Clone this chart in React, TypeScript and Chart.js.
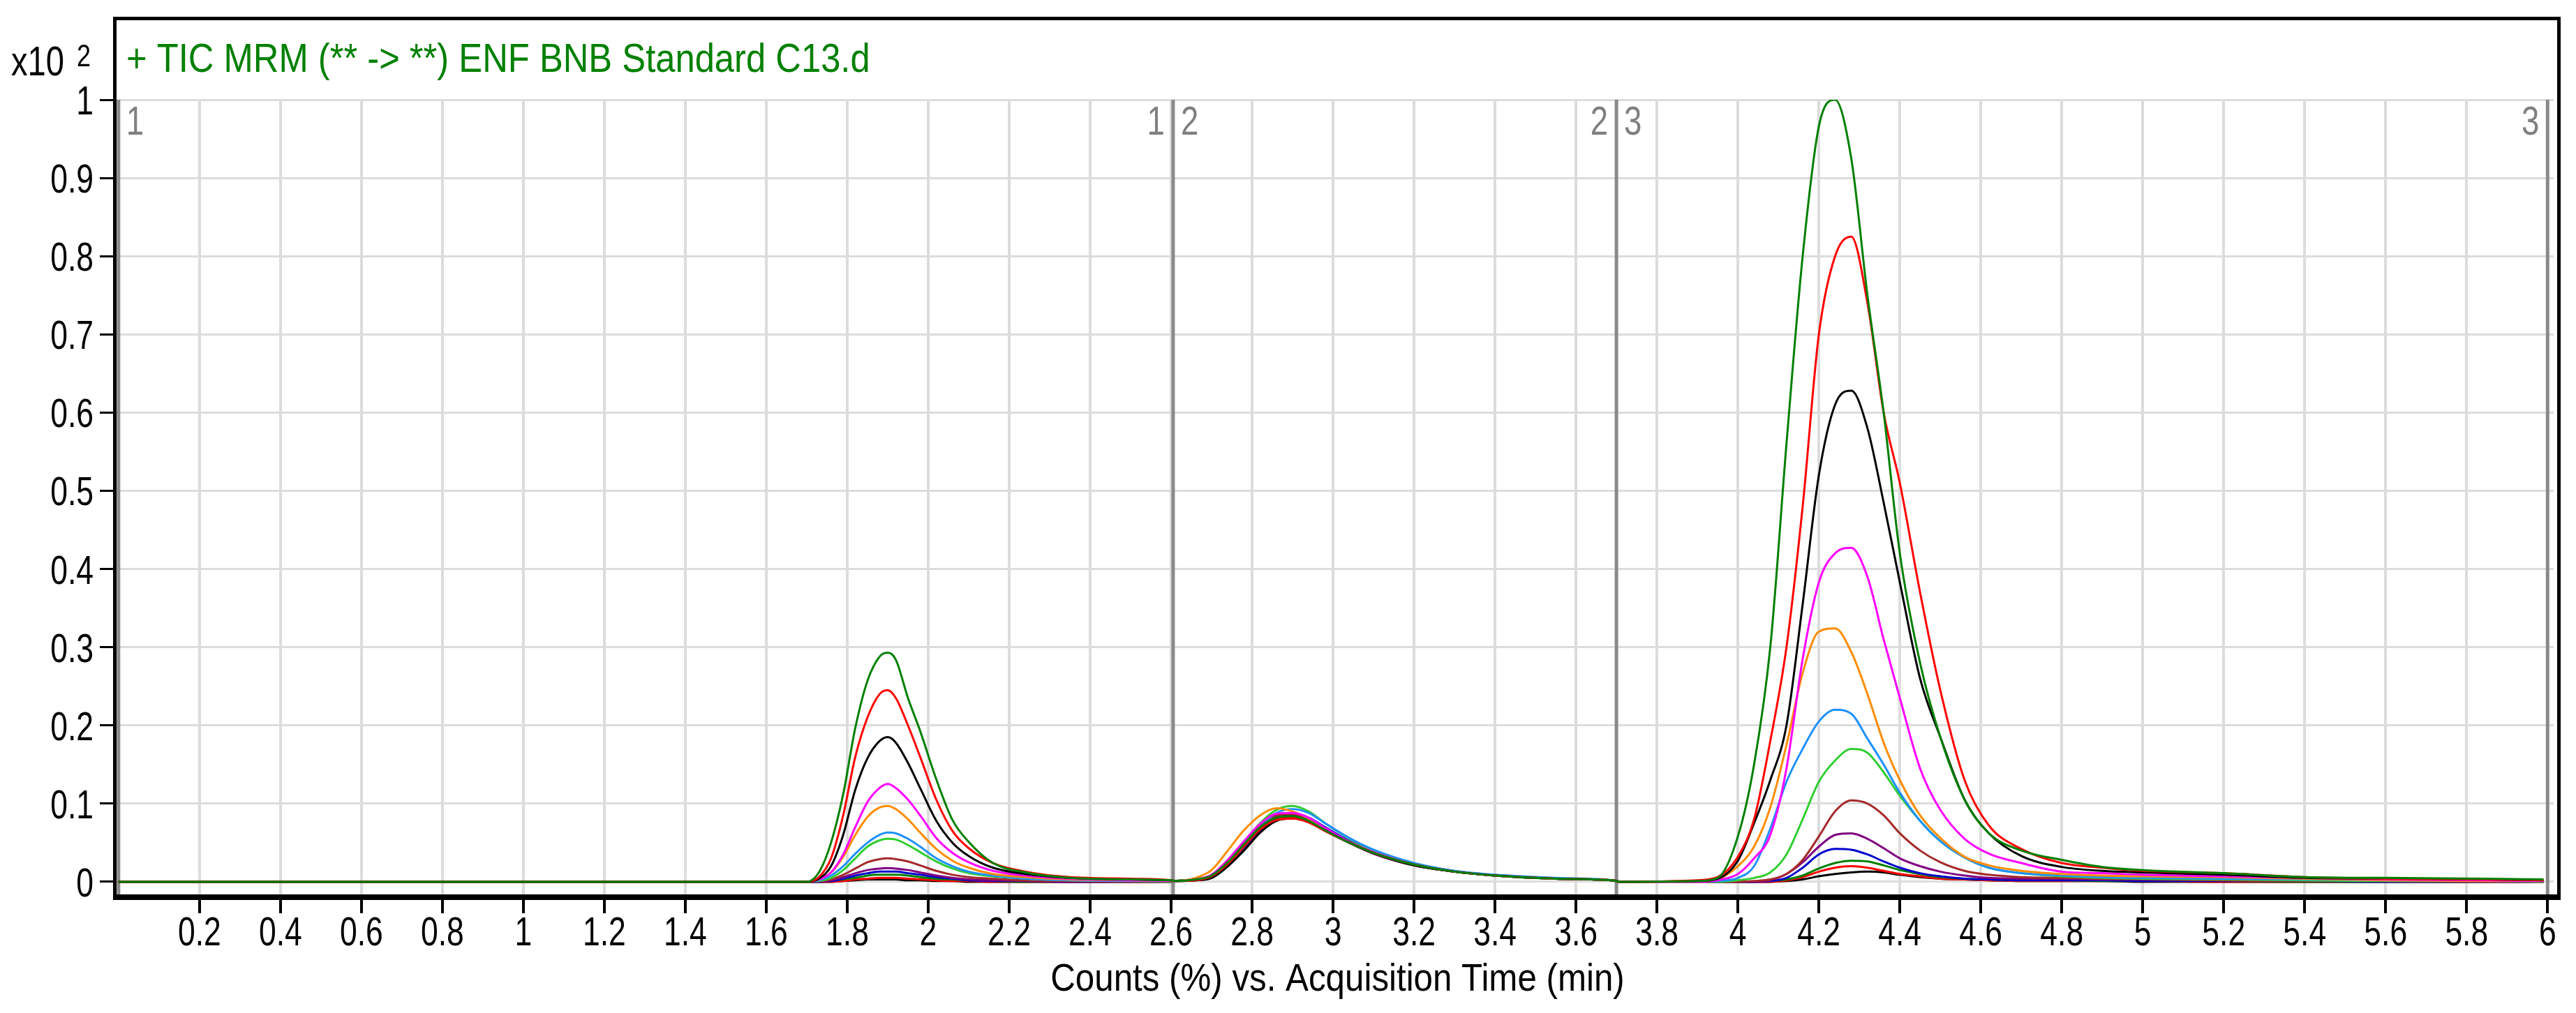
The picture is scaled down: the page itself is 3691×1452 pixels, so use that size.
import React, { useEffect, useRef } from 'react';
import { Chart, registerables } from 'chart.js';

Chart.register(...registerables);

// ---------- texts ----------
const TITLE = '+ TIC MRM (** -> **) ENF BNB Standard C13.d';
const X_AXIS_TITLE = 'Counts (%) vs. Acquisition Time (min)';
const Y_MULT_TEXT = 'x10';
const Y_MULT_EXP = '2';

// ---------- ticks ----------
const X_TICKS = [0.2, 0.4, 0.6, 0.8, 1, 1.2, 1.4, 1.6, 1.8, 2, 2.2, 2.4, 2.6, 2.8, 3, 3.2, 3.4, 3.6, 3.8, 4, 4.2, 4.4, 4.6, 4.8, 5, 5.2, 5.4, 5.6, 5.8, 6];
const X_TICK_LABELS = ['0.2', '0.4', '0.6', '0.8', '1', '1.2', '1.4', '1.6', '1.8', '2', '2.2', '2.4', '2.6', '2.8', '3', '3.2', '3.4', '3.6', '3.8', '4', '4.2', '4.4', '4.6', '4.8', '5', '5.2', '5.4', '5.6', '5.8', '6'];
const Y_TICKS = [0, 0.1, 0.2, 0.3, 0.4, 0.5, 0.6, 0.7, 0.8, 0.9, 1];
const Y_TICK_LABELS = ['0', '0.1', '0.2', '0.3', '0.4', '0.5', '0.6', '0.7', '0.8', '0.9', '1'];

// ---------- acquisition segments ----------
const SEGMENT_BOUNDS = [0, 2.605, 3.7, 6.0];
const SEGMENT_NAMES = ['1', '2', '3'];

// ---------- acquisition times (min) ----------
const TIME_SEG1 = [0, 1.70, 1.73, 1.76, 1.79, 1.82, 1.85, 1.88, 1.90, 1.92, 1.95, 1.98, 2.02, 2.06, 2.10, 2.16, 2.24, 2.35, 2.50, 2.60];
const TIME_SEG2 = [2.61, 2.66, 2.70, 2.74, 2.78, 2.82, 2.86, 2.90, 2.94, 2.98, 3.04, 3.10, 3.20, 3.30, 3.40, 3.55, 3.69];
const TIME_SEG3 = [3.71, 3.90, 3.95, 4.00, 4.04, 4.08, 4.12, 4.16, 4.20, 4.24, 4.28, 4.32, 4.36, 4.40, 4.45, 4.50, 4.56, 4.62, 4.70, 4.80, 4.90, 5.00, 5.20, 5.40, 5.60, 5.85, 5.99];

// ---------- counts (x10^2 %) per trace: segment 1 | segment 2 | segment 3 ----------
const GREEN_A = [
  0, 0, 0.012, 0.05, 0.112, 0.197, 0.257, 0.288, 0.293, 0.284, 0.235, 0.193, 0.131, 0.079, 0.051, 0.024, 0.012, 0.005, 0.003, 0.002,
  0.001, 0.003, 0.008, 0.025, 0.048, 0.07, 0.082, 0.084, 0.078, 0.066, 0.05, 0.037, 0.022, 0.013, 0.008, 0.004, 0.002,
  0, 0.001, 0.005, 0.058, 0.15, 0.30, 0.56, 0.80, 0.966, 1.0, 0.925, 0.75, 0.60, 0.42, 0.28, 0.185, 0.105, 0.062, 0.04, 0.028, 0.019, 0.015, 0.011, 0.006, 0.005, 0.004, 0.003,
];
const RED_A = [
  0, 0, 0.006, 0.03, 0.085, 0.16, 0.21, 0.24, 0.245, 0.235, 0.2, 0.16, 0.105, 0.065, 0.043, 0.024, 0.013, 0.006, 0.004, 0.002,
  0.001, 0.002, 0.007, 0.023, 0.045, 0.067, 0.079, 0.081, 0.076, 0.065, 0.05, 0.037, 0.022, 0.013, 0.008, 0.004, 0.002,
  0, 0.002, 0.006, 0.032, 0.08, 0.18, 0.30, 0.48, 0.70, 0.80, 0.825, 0.74, 0.60, 0.51, 0.37, 0.245, 0.13, 0.072, 0.042, 0.024, 0.018, 0.014, 0.011, 0.006, 0.004, 0.003, 0.002,
];
const BLACK_A = [
  0, 0, 0.004, 0.02, 0.06, 0.118, 0.158, 0.18, 0.185, 0.178, 0.152, 0.12, 0.078, 0.05, 0.033, 0.018, 0.01, 0.005, 0.003, 0.002,
  0.001, 0.002, 0.005, 0.02, 0.04, 0.063, 0.078, 0.081, 0.077, 0.066, 0.05, 0.037, 0.021, 0.013, 0.008, 0.004, 0.002,
  0, 0.001, 0.004, 0.027, 0.075, 0.13, 0.20, 0.355, 0.52, 0.61, 0.628, 0.58, 0.485, 0.383, 0.26, 0.185, 0.105, 0.062, 0.033, 0.019, 0.014, 0.012, 0.009, 0.005, 0.004, 0.003, 0.002,
];
const MAGENTA_A = [
  0, 0, 0.003, 0.012, 0.035, 0.07, 0.102, 0.12, 0.125, 0.12, 0.105, 0.085, 0.056, 0.037, 0.025, 0.014, 0.008, 0.004, 0.002, 0.001,
  0.001, 0.003, 0.009, 0.028, 0.052, 0.074, 0.087, 0.088, 0.082, 0.069, 0.051, 0.038, 0.022, 0.013, 0.008, 0.004, 0.002,
  0, 0, 0.002, 0.01, 0.03, 0.06, 0.145, 0.285, 0.383, 0.42, 0.427, 0.39, 0.31, 0.235, 0.145, 0.092, 0.055, 0.036, 0.024, 0.013, 0.011, 0.009, 0.007, 0.005, 0.003, 0.002, 0.001,
];
const ORANGE_A = [
  0, 0, 0.003, 0.012, 0.032, 0.06, 0.083, 0.095, 0.097, 0.093, 0.08, 0.063, 0.042, 0.027, 0.018, 0.01, 0.006, 0.003, 0.002, 0.001,
  0.001, 0.005, 0.015, 0.04, 0.066, 0.085, 0.094, 0.09, 0.081, 0.068, 0.051, 0.038, 0.022, 0.013, 0.008, 0.004, 0.002,
  0, 0, 0.003, 0.02, 0.045, 0.095, 0.175, 0.267, 0.32, 0.324, 0.294, 0.24, 0.178, 0.13, 0.085, 0.056, 0.032, 0.021, 0.014, 0.01, 0.008, 0.007, 0.006, 0.004, 0.002, 0.001, 0.001,
];
const DODGER_A = [
  0, 0, 0.002, 0.008, 0.02, 0.036, 0.05, 0.06, 0.063, 0.062, 0.055, 0.045, 0.03, 0.02, 0.013, 0.008, 0.004, 0.002, 0.001, 0.001,
  0.001, 0.002, 0.006, 0.022, 0.045, 0.07, 0.088, 0.093, 0.088, 0.075, 0.056, 0.041, 0.024, 0.014, 0.009, 0.005, 0.002,
  0, 0, 0.001, 0.005, 0.02, 0.068, 0.128, 0.17, 0.205, 0.22, 0.215, 0.183, 0.15, 0.114, 0.078, 0.052, 0.031, 0.018, 0.011, 0.008, 0.006, 0.005, 0.004, 0.003, 0.002, 0.001, 0.001,
];
const LIME_A = [
  0, 0, 0.001, 0.005, 0.015, 0.03, 0.045, 0.053, 0.055, 0.054, 0.047, 0.038, 0.026, 0.017, 0.011, 0.007, 0.004, 0.002, 0.001, 0,
  0.001, 0.003, 0.008, 0.026, 0.05, 0.075, 0.092, 0.097, 0.09, 0.075, 0.055, 0.04, 0.023, 0.014, 0.008, 0.004, 0.002,
  0, 0, 0, 0.002, 0.005, 0.012, 0.035, 0.08, 0.128, 0.155, 0.17, 0.165, 0.14, 0.11, 0.078, 0.052, 0.031, 0.018, 0.011, 0.007, 0.005, 0.004, 0.003, 0.002, 0.001, 0.001, 0,
];
const BROWN_A = [
  0, 0, 0.001, 0.003, 0.009, 0.017, 0.025, 0.029, 0.03, 0.029, 0.026, 0.021, 0.014, 0.009, 0.006, 0.004, 0.002, 0.001, 0, 0,
  0.001, 0.003, 0.008, 0.025, 0.049, 0.072, 0.085, 0.087, 0.08, 0.068, 0.051, 0.037, 0.022, 0.013, 0.008, 0.004, 0.002,
  0, 0, 0, 0, 0.001, 0.003, 0.01, 0.028, 0.058, 0.09, 0.104, 0.1, 0.085, 0.062, 0.04, 0.025, 0.014, 0.009, 0.006, 0.005, 0.004, 0.003, 0.002, 0.001, 0.001, 0, 0,
];
const PURPLE_A = [
  0, 0, 0, 0.002, 0.006, 0.011, 0.015, 0.017, 0.0175, 0.017, 0.015, 0.012, 0.008, 0.005, 0.003, 0.002, 0.001, 0, 0, 0,
  0.001, 0.003, 0.008, 0.026, 0.05, 0.072, 0.084, 0.085, 0.079, 0.067, 0.05, 0.036, 0.021, 0.013, 0.008, 0.004, 0.002,
  0, 0, 0, 0, 0, 0.002, 0.01, 0.025, 0.045, 0.06, 0.062, 0.055, 0.043, 0.03, 0.02, 0.013, 0.008, 0.005, 0.004, 0.004, 0.003, 0.003, 0.002, 0.001, 0.001, 0, 0,
];
const BLUE_A = [
  0, 0, 0, 0.001, 0.004, 0.008, 0.011, 0.013, 0.013, 0.013, 0.011, 0.009, 0.006, 0.004, 0.002, 0.001, 0.001, 0, 0, 0,
  0.001, 0.002, 0.006, 0.021, 0.042, 0.066, 0.082, 0.087, 0.082, 0.07, 0.052, 0.038, 0.022, 0.013, 0.008, 0.004, 0.002,
  0, 0, 0, 0, 0, 0.001, 0.005, 0.018, 0.035, 0.042, 0.041, 0.035, 0.026, 0.018, 0.011, 0.007, 0.004, 0.003, 0.002, 0.002, 0.002, 0.001, 0.001, 0.001, 0, 0, 0,
];
const GREEN_B = [
  0, 0, 0, 0.001, 0.003, 0.005, 0.008, 0.009, 0.009, 0.009, 0.008, 0.006, 0.004, 0.003, 0.002, 0.001, 0, 0, 0, 0,
  0.001, 0.003, 0.007, 0.024, 0.047, 0.069, 0.082, 0.085, 0.079, 0.067, 0.05, 0.037, 0.022, 0.013, 0.008, 0.004, 0.002,
  0, 0, 0, 0, 0, 0.001, 0.003, 0.008, 0.017, 0.024, 0.027, 0.026, 0.021, 0.015, 0.01, 0.006, 0.004, 0.003, 0.002, 0.002, 0.001, 0.001, 0.001, 0, 0, 0, 0,
];
const RED_B = [
  0, 0, 0, 0, 0.001, 0.003, 0.004, 0.005, 0.005, 0.005, 0.004, 0.003, 0.002, 0.001, 0.001, 0, 0, 0, 0, 0,
  0.001, 0.002, 0.006, 0.022, 0.045, 0.068, 0.081, 0.083, 0.078, 0.066, 0.05, 0.037, 0.022, 0.013, 0.008, 0.004, 0.002,
  0, 0, 0, 0, 0, 0, 0.002, 0.006, 0.013, 0.018, 0.02, 0.018, 0.014, 0.01, 0.007, 0.004, 0.003, 0.002, 0.001, 0.001, 0.001, 0.001, 0, 0, 0, 0, 0,
];
const BLACK_B = [
  0, 0, 0, 0, 0.001, 0.002, 0.003, 0.003, 0.003, 0.003, 0.002, 0.002, 0.001, 0.001, 0, 0, 0, 0, 0, 0,
  0.001, 0.002, 0.005, 0.02, 0.042, 0.065, 0.079, 0.082, 0.077, 0.066, 0.05, 0.036, 0.021, 0.013, 0.008, 0.004, 0.002,
  0, 0, 0, 0, 0, 0, 0.001, 0.003, 0.007, 0.01, 0.012, 0.013, 0.012, 0.009, 0.006, 0.004, 0.003, 0.002, 0.001, 0.001, 0.001, 0, 0, 0, 0, 0, 0,
];

const TRACES = [
  { color: '#008000', values: GREEN_A },
  { color: '#ff0000', values: RED_A },
  { color: '#000000', values: BLACK_A },
  { color: '#ff00ff', values: MAGENTA_A },
  { color: '#ff8c00', values: ORANGE_A },
  { color: '#1e90ff', values: DODGER_A },
  { color: '#32cd32', values: LIME_A },
  { color: '#a52a2a', values: BROWN_A },
  { color: '#800080', values: PURPLE_A },
  { color: '#0000cd', values: BLUE_A },
  { color: '#008000', values: GREEN_B },
  { color: '#ff0000', values: RED_B },
  { color: '#000000', values: BLACK_B },
];

const FONT = '"Liberation Sans", Arial, sans-serif';
const W = 3691;
const H = 1452;

// draws horizontally condensed text (imitates the narrow bitmap font of the original)
function narrowText(ctx: CanvasRenderingContext2D, text: string, x: number, y: number, size: number, sx: number, align: 'left' | 'right' | 'center', color: string) {
  ctx.save();
  ctx.font = `${size}px ${FONT}`;
  ctx.fillStyle = color;
  ctx.textBaseline = 'alphabetic';
  ctx.textAlign = 'left';
  const w = ctx.measureText(text).width * sx;
  const left = align === 'left' ? x : align === 'right' ? x - w : x - w / 2;
  ctx.translate(left, y);
  ctx.scale(sx, 1);
  ctx.fillText(text, 0, 0);
  ctx.restore();
}

const overlayPlugin = {
  id: 'overlay',
  beforeDatasetsDraw(chart: any) {
    const { ctx, chartArea: a } = chart;
    const x = chart.scales.x;
    ctx.save();
    ctx.strokeStyle = '#8a8a8a';
    ctx.lineWidth = 5;
    SEGMENT_BOUNDS.forEach((b) => {
      const px = x.getPixelForValue(b);
      ctx.beginPath();
      ctx.moveTo(px, a.top);
      ctx.lineTo(px, a.bottom);
      ctx.stroke();
    });
    ctx.restore();
    SEGMENT_NAMES.forEach((n, i) => {
      const l = x.getPixelForValue(SEGMENT_BOUNDS[i]);
      const r = x.getPixelForValue(SEGMENT_BOUNDS[i + 1]);
      narrowText(ctx, n, l + 11, a.top + 50, 57, 0.8, 'left', '#808080');
      narrowText(ctx, n, r - 12, a.top + 50, 57, 0.8, 'right', '#808080');
    });
  },
  afterDraw(chart: any) {
    const { ctx, chartArea: a } = chart;
    const x = chart.scales.x;
    const y = chart.scales.y;
    ctx.save();
    // frame
    ctx.fillStyle = '#000';
    const L = a.left - 2;
    const T = 24;
    const R = a.right + 5;
    const B = a.bottom - 1;
    ctx.fillRect(L, T, R - L + 5, 5);
    ctx.fillRect(L, T, 5, B - T + 8);
    ctx.fillRect(R, T, 5, B - T + 8);
    ctx.fillRect(L, B, R - L + 5, 8);
    // x tick marks below frame
    X_TICKS.forEach((v) => {
      const px = x.getPixelForValue(v);
      ctx.fillRect(Math.round(px) - 2, B + 8, 4, 19);
    });
    ctx.restore();
    // x tick labels
    X_TICKS.forEach((v, i) => {
      narrowText(ctx, X_TICK_LABELS[i], x.getPixelForValue(v), 1355, 57, 0.78, 'center', '#000');
    });
    // y tick labels
    Y_TICKS.forEach((v, i) => {
      narrowText(ctx, Y_TICK_LABELS[i], 134, y.getPixelForValue(v) + 21, 57, 0.78, 'right', '#000');
    });
    // x axis title
    narrowText(ctx, X_AXIS_TITLE, (a.left + a.right) / 2 + 5, 1420, 56, 0.88, 'center', '#000');
    // chart title
    narrowText(ctx, TITLE, 181, 103, 57, 0.89, 'left', '#008000');
    // y multiplier
    narrowText(ctx, Y_MULT_TEXT, 16, 108, 59, 0.8, 'left', '#000');
    narrowText(ctx, Y_MULT_EXP, 110, 95, 45, 0.8, 'left', '#000');
  },
};

export default function App() {
  const ref = useRef<HTMLCanvasElement | null>(null);

  useEffect(() => {
    if (!ref.current) return;
    const times = [...TIME_SEG1, ...TIME_SEG2, ...TIME_SEG3];
    const datasets = TRACES.map((t) => ({
      data: times.map((tm, i) => ({ x: tm, y: t.values[i] })),
      borderColor: t.color,
      backgroundColor: t.color,
      borderWidth: 3,
      pointRadius: 0,
      fill: false,
      cubicInterpolationMode: 'monotone' as const,
    }));

    const chart = new Chart(ref.current, {
      type: 'line',
      data: { datasets },
      options: {
        animation: false,
        responsive: false,
        devicePixelRatio: 1,
        layout: { padding: { top: 143, right: 32, left: 0, bottom: 0 } },
        plugins: { legend: { display: false }, tooltip: { enabled: false } },
        scales: {
          x: {
            type: 'linear',
            min: -0.01,
            max: 6.015,
            afterBuildTicks: (s: any) => {
              s.ticks = X_TICKS.map((v) => ({ value: v }));
            },
            afterFit: (s: any) => {
              s.height = 169;
            },
            ticks: { display: false, autoSkip: false, maxRotation: 0, minRotation: 0 },
            grid: { color: '#dcdcdc', lineWidth: 4, drawTicks: false },
            border: { display: false },
          },
          y: {
            type: 'linear',
            min: -0.017,
            max: 1,
            afterBuildTicks: (s: any) => {
              s.ticks = Y_TICKS.map((v) => ({ value: v }));
            },
            afterFit: (s: any) => {
              s.width = 164;
            },
            ticks: { display: false },
            grid: {
              color: '#dcdcdc',
              lineWidth: 3,
              drawTicks: true,
              tickLength: 21,
              tickColor: '#000',
              tickWidth: 3,
            },
            border: { display: false },
          },
        },
      } as any,
      plugins: [overlayPlugin],
    });
    return () => chart.destroy();
  }, []);

  return (
    <div style={{ position: 'fixed', left: 0, top: 0, width: W, height: H, background: '#fff' }}>
      <canvas ref={ref} width={W} height={H} style={{ display: 'block', width: W, height: H }} />
    </div>
  );
}
